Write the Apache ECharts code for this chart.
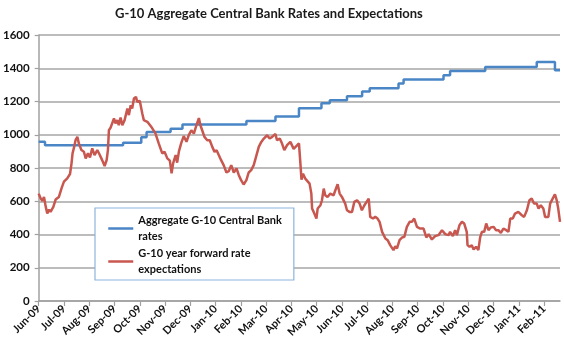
<!DOCTYPE html>
<html>
<head>
<meta charset="utf-8">
<script src="https://cdn.jsdelivr.net/npm/echarts@6/dist/echarts.min.js"></script>
<style>
  html, body { margin: 0; padding: 0; background: #fff; }
  #chart { width: 564px; height: 352px; }
</style>
</head>
<body>
<div id="chart"></div>
<script>
// x positions are in months counted from Jun-09
var monthLabels = ['Jun-09', 'Jul-09', 'Aug-09', 'Sep-09', 'Oct-09', 'Nov-09', 'Dec-09',
    'Jan-10', 'Feb-10', 'Mar-10', 'Apr-10', 'May-10', 'Jun-10', 'Jul-10', 'Aug-10',
    'Sep-10', 'Oct-10', 'Nov-10', 'Dec-10', 'Jan-11', 'Feb-11'];

var rateX = [0, 0.25, 3.34, 4.06, 4.27, 5.22, 5.69, 8.22, 9.37, 10.30, 11.19, 11.52,
    12.20, 12.80, 13.10, 14.24, 14.44, 16.02, 16.28, 17.67, 19.71, 20.43, 20.63];
var rateY = [958, 937, 952, 985, 1016, 1036, 1062, 1082, 1110, 1160, 1190, 1208,
    1232, 1260, 1280, 1308, 1332, 1358, 1384, 1408, 1438, 1388, 1388];

var fwdX = [0, 0.08, 0.15, 0.21, 0.28, 0.34, 0.41, 0.47, 0.58, 0.67, 0.80, 0.91, 1.00,
    1.13, 1.24, 1.30, 1.34, 1.40, 1.46, 1.53, 1.59, 1.69, 1.79, 1.86, 1.95, 2.03, 2.12,
    2.21, 2.32, 2.40, 2.48, 2.54, 2.61, 2.69, 2.74, 2.78, 2.85, 2.91, 2.98, 3.04, 3.11,
    3.17, 3.24, 3.31, 3.40, 3.51, 3.57, 3.64, 3.70, 3.77, 3.85, 3.90, 4.00, 4.10, 4.16,
    4.30, 4.40, 4.49, 4.62, 4.75, 4.89, 4.98, 5.09, 5.19, 5.26, 5.32, 5.42, 5.48, 5.55,
    5.64, 5.74, 5.85, 5.94, 6.04, 6.14, 6.25, 6.34, 6.40, 6.47, 6.56, 6.67, 6.77, 6.87,
    6.96, 7.04, 7.13, 7.22, 7.32, 7.43, 7.52, 7.62, 7.72, 7.83, 7.92, 8.01, 8.11, 8.22,
    8.31, 8.41, 8.51, 8.62, 8.71, 8.81, 8.91, 9.04, 9.14, 9.24, 9.37, 9.43, 9.54, 9.63,
    9.72, 9.83, 9.96, 10.09, 10.30, 10.36, 10.40, 10.46, 10.55, 10.62, 10.72, 10.79,
    10.82, 10.88, 10.95, 10.99, 11.04, 11.15, 11.21, 11.28, 11.34, 11.43, 11.54, 11.61,
    11.67, 11.74, 11.83, 11.91, 12.00, 12.07, 12.13, 12.20, 12.30, 12.40, 12.49, 12.60,
    12.70, 12.79, 12.89, 12.96, 13.06, 13.12, 13.23, 13.32, 13.41, 13.49, 13.59, 13.72,
    13.81, 13.91, 13.98, 14.04, 14.11, 14.18, 14.28, 14.38, 14.47, 14.57, 14.68, 14.77,
    14.86, 14.97, 15.10, 15.23, 15.34, 15.43, 15.56, 15.69, 15.82, 15.96, 16.09, 16.22,
    16.28, 16.39, 16.48, 16.55, 16.65, 16.75, 16.84, 16.94, 16.97, 17.05, 17.14, 17.21,
    17.31, 17.40, 17.47, 17.54, 17.63, 17.71, 17.80, 17.89, 18.00, 18.10, 18.19, 18.29,
    18.39, 18.50, 18.59, 18.66, 18.76, 18.85, 18.98, 19.12, 19.21, 19.32, 19.42, 19.51,
    19.60, 19.71, 19.78, 19.87, 19.97, 20.04, 20.17, 20.24, 20.34, 20.43, 20.50, 20.56,
    20.63];
var fwdY = [646, 616, 602, 626, 566, 526, 550, 536, 566, 610, 626, 680, 718,
    738, 764, 828, 888, 924, 968, 988, 948, 908, 898, 858, 888, 864, 918,
    878, 908, 884, 858, 838, 812, 848, 908, 1028, 1044, 1032, 1098, 1068, 1088,
    1058, 1104, 1058, 1088, 1158, 1118, 1178, 1158, 1218, 1228, 1198, 1204, 1128, 1088,
    1078, 1058, 1040, 1008, 948, 888, 898, 858, 844, 768, 828, 878, 832, 900,
    950, 992, 958, 998, 1027, 1007, 1061, 1100, 1057, 1027, 987, 967, 967, 927,
    897, 907, 877, 847, 817, 773, 781, 817, 773, 797, 757, 727, 701, 727,
    773, 787, 817, 877, 927, 957, 977, 997, 977, 987, 1005, 967, 977, 947,
    907, 937, 957, 915, 948, 820, 730, 766, 736, 726, 706, 646,
    556, 536, 546, 496, 556, 576, 606, 676, 636, 626, 646, 656,
    636, 666, 702, 646, 626, 616, 586, 546, 536, 536, 596, 606,
    586, 546, 576, 566, 616, 506, 496, 506, 496, 476, 416, 376,
    366, 336, 326, 306, 330, 316, 366, 382, 386, 446, 476, 476,
    496, 446, 436, 436, 382, 402, 370, 390, 396, 426, 402, 396,
    416, 390, 426, 396, 456, 476, 466, 416, 336, 326, 336, 310,
    326, 306, 382, 416, 416, 466, 426, 442, 446, 426, 426, 410,
    436, 426, 416, 496, 496, 526, 536, 516, 506, 546, 606, 616,
    586, 586, 556, 576, 556, 506, 506, 586, 616, 642, 606, 556,
    476];

function pairs(xs, ys) {
    var out = [];
    for (var i = 0; i < xs.length; i++) out.push([xs[i], ys[i]]);
    return out;
}

var myChart = echarts.init(document.getElementById('chart'));
var fontFamily = 'Lato, "Open Sans", sans-serif';

var option = {
    animation: false,
    textStyle: { fontFamily: fontFamily },
    title: {
        text: 'G-10 Aggregate Central Bank Rates and Expectations',
        left: 110,
        top: 2,
        textStyle: { fontSize: 13, fontWeight: 'bold', color: '#1a1a1a', fontFamily: fontFamily }
    },
    grid: { left: 38, right: 4, top: 35, bottom: 51 },
    legend: {
        orient: 'vertical',
        left: 95,
        top: 208,
        padding: [5, 12, 3, 12],
        itemGap: 2,
        itemWidth: 25,
        itemHeight: 14,
        borderColor: '#8db4de',
        borderWidth: 1.2,
        backgroundColor: '#fff',
        itemStyle: { opacity: 0 },
        lineStyle: { width: 2.5 },
        textStyle: {
            fontSize: 11, fontWeight: 'bold', color: '#111', lineHeight: 16,
            verticalAlign: 'top', padding: [-1, 0, 0, 0], fontFamily: fontFamily
        }
    },
    xAxis: {
        type: 'value',
        min: 0,
        max: 20.63,
        interval: 1,
        splitLine: { show: false },
        axisLine: { lineStyle: { color: '#a0a0a0', width: 1.5 } },
        axisTick: { show: true, length: 5, lineStyle: { color: '#a0a0a0', width: 1.2 } },
        axisLabel: {
            rotate: 45,
            margin: 6,
            fontSize: 11,
            fontWeight: 'bold',
            color: '#111',
            showMaxLabel: false,
            formatter: function (v) {
                return Math.abs(v - Math.round(v)) < 1e-6 ? (monthLabels[Math.round(v)] || '') : '';
            }
        }
    },
    yAxis: {
        type: 'value',
        min: 0,
        max: 1600,
        interval: 200,
        axisLine: { show: true, lineStyle: { color: '#a0a0a0', width: 1.5 } },
        axisTick: { show: true, length: 4, lineStyle: { color: '#a0a0a0', width: 1.2 } },
        axisLabel: {
            fontSize: 11.5, fontWeight: 'bold', color: '#111', margin: 9,
            formatter: function (v) { return String(v); }
        },
        splitLine: { lineStyle: { color: '#a6a6a6', width: 1.5 } }
    },
    series: [
        {
            name: 'Aggregate G-10 Central Bank\nrates',
            type: 'line',
            step: 'end',
            symbol: 'none',
            data: pairs(rateX, rateY),
            lineStyle: { color: '#4a86c6', width: 2.5 },
            itemStyle: { color: '#4a86c6' }
        },
        {
            name: 'G-10 year forward rate\nexpectations',
            type: 'line',
            symbol: 'none',
            data: pairs(fwdX, fwdY),
            lineStyle: { color: '#c8574f', width: 2.5 },
            itemStyle: { color: '#c8574f' },
            z: 3
        }
    ]
};

myChart.setOption(option);
</script>
</body>
</html>
